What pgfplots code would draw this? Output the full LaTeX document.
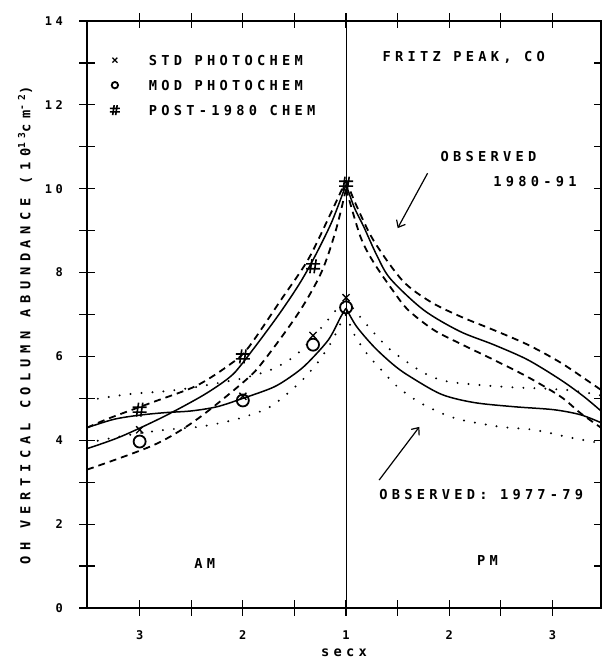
\documentclass[border=0pt]{standalone}
\usepackage{pgfplots}
\pgfplotsset{compat=1.18}
\usepackage{fontspec}
\setmainfont{DejaVu Sans}
\newfontfamily\plotfont[LetterSpace=31]{DejaVu Sans Mono}
\newfontfamily\ylabfont[LetterSpace=41]{DejaVu Sans Mono}
\usetikzlibrary{arrows.meta}

\newcommand\labfont{\plotfont\bfseries\fontsize{13.7}{16}\selectfont}
\newcommand\tickfont{\plotfont\bfseries\fontsize{12}{14}\selectfont}

% hash mark used for the post-1980 chemistry points
\pgfdeclareplotmark{hash}{%
  \pgfpathmoveto{\pgfpoint{-0.45\pgfplotmarksize}{-\pgfplotmarksize}}%
  \pgfpathlineto{\pgfpoint{-0.15\pgfplotmarksize}{\pgfplotmarksize}}%
  \pgfpathmoveto{\pgfpoint{0.15\pgfplotmarksize}{-\pgfplotmarksize}}%
  \pgfpathlineto{\pgfpoint{0.45\pgfplotmarksize}{\pgfplotmarksize}}%
  \pgfpathmoveto{\pgfpoint{-\pgfplotmarksize}{0.35\pgfplotmarksize}}%
  \pgfpathlineto{\pgfpoint{\pgfplotmarksize}{0.35\pgfplotmarksize}}%
  \pgfpathmoveto{\pgfpoint{-\pgfplotmarksize}{-0.35\pgfplotmarksize}}%
  \pgfpathlineto{\pgfpoint{\pgfplotmarksize}{-0.35\pgfplotmarksize}}%
  \pgfusepathqstroke}

\tikzset{
  obs/.style={black, line width=1.5pt, smooth, no marks},
  obsdash/.style={black, line width=1.8pt, dash pattern=on 7pt off 5pt, smooth, no marks},
  obsdot/.style={black, line width=2.2pt, line cap=round, dash pattern=on 0pt off 11pt, smooth, no marks},
}
% legend marks, drawn a little smaller than in the plot
\pgfplotsset{
  legmark/.style={legend image code/.code={\draw[##1, mark size=#1] plot coordinates {(0pt,0pt)};}},
}

\begin{document}
\begin{tikzpicture}
\begin{axis}[
    name=ax,
    scale only axis,
    width=514pt, height=587pt,
    xmin=-2.51, xmax=2.47,
    ymin=0, ymax=14,
    axis line style={line width=1.6pt},
    xtick={-2,-1,0,1,2},
    xticklabels={3,2,1,2,3},
    minor xtick={-1.5,-0.5,0.5,1.5},
    ytick={0,2,...,14},
    minor ytick={1,3,...,13},
    tick align=center,
    major tick length=15pt,
    minor tick length=15pt,
    tick style={black, line width=1.2pt},
    xticklabel style={font=\tickfont, yshift=-12pt},
    yticklabel style={font=\tickfont, xshift=-13pt},
    /pgf/number format/assume math mode=true,
    xlabel={secx},
    xlabel style={font=\labfont, at={(axis description cs:0.5,0)}, anchor=center, yshift=-45pt},
    ylabel={OH VERTICAL COLUMN ABUNDANCE\ (10\textsuperscript{13}cm\textsuperscript{-2})},
    ylabel style={font=\ylabfont\bfseries\fontsize{13.7}{16}\selectfont,
        at={(axis description cs:-0.1206,0.482)}, anchor=center},
    legend cell align=left,
    legend style={draw=none, fill=none, font=\labfont,
        at={(axis cs:-2.29,13.19)}, anchor=north west,
        inner sep=0pt, row sep=15pt,
        nodes={inner sep=0pt, text height=10pt, text depth=0pt},
        /tikz/every odd column/.append style={column sep=29pt}},
]

% centre line, sec chi = 1
\addplot[black, line width=1.1pt, forget plot] coordinates {(0,0) (0,14)};

% observed 1980-91: mean (solid) with dashed bounds
\addplot[obs, forget plot] coordinates {(-2.51,3.8) (-2.19,4.08) (-1.77,4.56) (-1.38,5.08) (-1.13,5.5) (-1,5.85) (-0.68,6.9) (-0.46,7.7) (-0.31,8.35) (-0.14,9.2) (0,10.1)};
\addplot[obs, forget plot] coordinates {(0,10.1) (0.08,9.55) (0.17,9.1) (0.3,8.4) (0.43,7.85) (0.75,7.11) (1.1,6.6) (1.43,6.28) (1.76,5.92) (2.08,5.44) (2.3,5.05) (2.47,4.7)};
\addplot[obsdash, forget plot] coordinates {(-2.51,4.3) (-2.29,4.53) (-1.86,4.92) (-1.45,5.3) (-1.13,5.8) (-0.95,6.2) (-0.63,7.35) (-0.37,8.3) (-0.17,9.3) (0,10.2)};
\addplot[obsdash, forget plot] coordinates {(-2.51,3.3) (-1.86,3.89) (-1.45,4.49) (-0.97,5.44) (-0.79,5.92) (-0.46,7.04) (-0.24,8.0) (-0.1,9.0) (0,10.0)};
\addplot[obsdash, forget plot] coordinates {(0,10.2) (0.1,9.6) (0.27,8.75) (0.55,7.8) (0.82,7.3) (1.11,6.95) (1.43,6.63) (1.76,6.28) (2.08,5.85) (2.4,5.32) (2.47,5.2)};
\addplot[obsdash, forget plot] coordinates {(0,10.0) (0.14,8.85) (0.27,8.23) (0.46,7.55) (0.6,7.11) (0.85,6.63) (1.11,6.3) (1.43,5.92) (1.76,5.51) (2.08,5.04) (2.27,4.65) (2.47,4.3)};

% observed 1977-79: mean (solid) with dotted bounds
\addplot[obs, forget plot] coordinates {(-2.51,4.3) (-2.25,4.5) (-2,4.6) (-1.75,4.66) (-1.5,4.7) (-1.25,4.8) (-1,5.0) (-0.7,5.27) (-0.5,5.58) (-0.37,5.85) (-0.17,6.4) (-0.05,6.95) (0,7.15)};
\addplot[obs, forget plot] coordinates {(0,7.15) (0.1,6.72) (0.27,6.23) (0.45,5.82) (0.6,5.55) (0.92,5.1) (1.24,4.9) (1.63,4.8) (2.01,4.73) (2.27,4.61) (2.47,4.42)};
\addplot[obsdot, forget plot] coordinates {(-2.51,4.95) (-2.1,5.1) (-1.75,5.17) (-1.5,5.25) (-1.25,5.36) (-1,5.48) (-0.75,5.66) (-0.58,5.87) (-0.48,6.05) (-0.4,6.23) (-0.19,6.83) (-0.1,7.1) (0,7.35)};
\addplot[obsdot, forget plot] coordinates {(-2.51,3.94) (-2.1,4.13) (-1.75,4.25) (-1.4,4.33) (-1.08,4.49) (-0.77,4.75) (-0.6,5.05) (-0.43,5.42) (-0.27,5.87) (-0.14,6.35) (-0.05,6.8) (0,7.0)};
\addplot[obsdot, forget plot] coordinates {(0,7.35) (0.12,6.99) (0.27,6.56) (0.42,6.18) (0.6,5.85) (0.79,5.56) (1.01,5.39) (1.5,5.28) (2.14,5.2) (2.47,5.07)};
\addplot[obsdot, forget plot] coordinates {(0,7.0) (0.08,6.52) (0.21,6.04) (0.36,5.63) (0.51,5.25) (0.7,4.92) (0.92,4.65) (1.11,4.49) (1.5,4.32) (1.82,4.25) (2.14,4.08) (2.47,3.93)};

% model points
\addplot[only marks, black, mark=x, mark size=5pt, line width=1.3pt, legmark=3.5pt]
    coordinates {(-2,4.25) (-1,5.05) (-0.32,6.5) (0,7.4)};
\addlegendentry{STD PHOTOCHEM}
\addplot[only marks, black, mark=o, mark size=6pt, line width=1.8pt, legmark=3.2pt]
    coordinates {(-2,3.97) (-1,4.95) (-0.32,6.28) (0,7.17)};
\addlegendentry{MOD PHOTOCHEM}
\addplot[only marks, black, mark=hash, mark size=7pt, line width=1.6pt, legmark=5pt]
    coordinates {(-2,4.73) (-1,6.0) (-0.32,8.15) (0,10.12)};
\addlegendentry{POST-1980 CHEM}

% annotations
\node[font=\labfont] at (axis cs:1.14,13.14) {FRITZ PEAK, CO};
\node[font=\labfont] at (axis cs:1.38,10.76) {OBSERVED};
\node[font=\labfont] at (axis cs:1.83,10.16) {1980-91};
\draw[line width=1.2pt, -{Straight Barb[length=6pt,width=10pt]}] (axis cs:0.79,10.37) -- (axis cs:0.50,9.06);
\node[font=\labfont] at (axis cs:1.31,2.70) {OBSERVED: 1977-79};
\draw[line width=1.2pt, -{Straight Barb[length=6pt,width=10pt]}] (axis cs:0.32,3.05) -- (axis cs:0.71,4.32);
\node[font=\labfont] at (axis cs:-1.37,1.07) {AM};
\node[font=\labfont] at (axis cs:1.37,1.14) {PM};
\end{axis}
\pgfresetboundingbox
\path ([xshift=-87pt,yshift=-51pt]ax.south west) rectangle ([xshift=0.5pt,yshift=21pt]ax.north east);
\end{tikzpicture}
\end{document}
